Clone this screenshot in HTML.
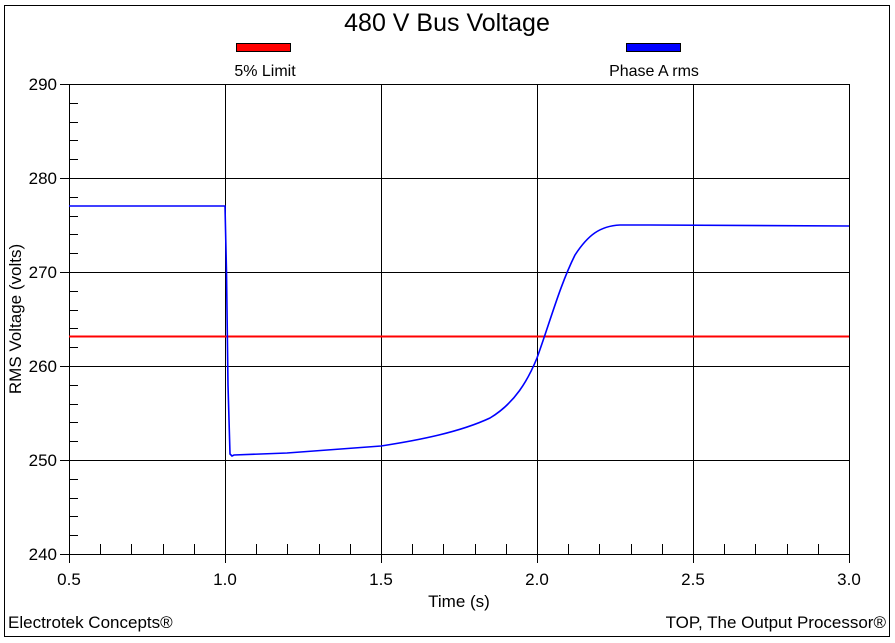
<!DOCTYPE html>
<html><head><meta charset="utf-8"><style>
body{margin:0;background:#fff;}
svg{display:block;font-family:"Liberation Sans",Arial,sans-serif;}
</style></head><body>
<svg width="895" height="643" viewBox="0 0 895 643" xmlns="http://www.w3.org/2000/svg">
<rect x="4.5" y="5.5" width="885" height="631" fill="#fff" stroke="#000" stroke-width="1"/>
<text x="447" y="31" font-size="25" text-anchor="middle">480 V Bus Voltage</text>
<rect x="236.5" y="43.5" width="54" height="8" fill="#f00" stroke="#000"/>
<text x="265" y="76" font-size="16" text-anchor="middle">5% Limit</text>
<rect x="626.5" y="43.5" width="54" height="8" fill="#00f" stroke="#000"/>
<text x="654" y="76" font-size="16" text-anchor="middle">Phase A rms</text>
<g stroke="#000" stroke-width="1" fill="none">
<rect x="69.5" y="84.5" width="780" height="470"/>
<path d="M69 178.5H849M69 272.5H849M69 366.5H849M69 460.5H849"/>
<path d="M225.5 84V554M381.5 84V554M537.5 84V554M693.5 84V554"/>
<path d="M60 84.5H69M60 178.5H69M60 272.5H69M60 366.5H69M60 460.5H69M60 554.5H69"/>
<path d="M69.5 554V563M225.5 554V563M381.5 554V563M537.5 554V563M693.5 554V563M849.5 554V563"/>
<path d="M69 103.5h9M69 122.5h9M69 140.5h9M69 159.5h9M69 197.5h9M69 216.5h9M69 234.5h9M69 253.5h9M69 291.5h9M69 310.5h9M69 328.5h9M69 347.5h9M69 385.5h9M69 404.5h9M69 422.5h9M69 441.5h9M69 479.5h9M69 498.5h9M69 516.5h9M69 535.5h9"/>
<path d="M100.5 554v-10M131.5 554v-10M163.5 554v-10M194.5 554v-10M256.5 554v-10M287.5 554v-10M319.5 554v-10M350.5 554v-10M412.5 554v-10M443.5 554v-10M475.5 554v-10M506.5 554v-10M568.5 554v-10M599.5 554v-10M631.5 554v-10M662.5 554v-10M724.5 554v-10M755.5 554v-10M787.5 554v-10M818.5 554v-10"/>
</g>
<g font-size="17" text-anchor="end">
<text x="57" y="90">290</text><text x="57" y="184">280</text><text x="57" y="278">270</text>
<text x="57" y="372">260</text><text x="57" y="466">250</text><text x="57" y="560">240</text>
</g>
<g font-size="17" text-anchor="middle">
<text x="69" y="585">0.5</text><text x="225" y="585">1.0</text><text x="381" y="585">1.5</text>
<text x="537" y="585">2.0</text><text x="693" y="585">2.5</text><text x="849" y="585">3.0</text>
</g>
<text x="459" y="607" font-size="17" text-anchor="middle">Time (s)</text>
<text transform="translate(21 319) rotate(-90)" font-size="17" text-anchor="middle">RMS Voltage (volts)</text>
<text x="8" y="628" font-size="17">Electrotek Concepts®</text>
<text x="886" y="628" font-size="17" text-anchor="end">TOP, The Output Processor®</text>
<line x1="69" y1="336.5" x2="849" y2="336.5" stroke="#f00" stroke-width="2"/>
<path fill="none" stroke="#00f" stroke-width="1.6" d="M69 206L225 206L226.5 272L228 385L230 454L232 456L234 455L287 453L381 446C420 440 460 432 490 418C515 403 528 380 537 358C550 322 560 285 575 255C588 235 600 226 620 225L650 225L849 226"/>
</svg>
</body></html>
